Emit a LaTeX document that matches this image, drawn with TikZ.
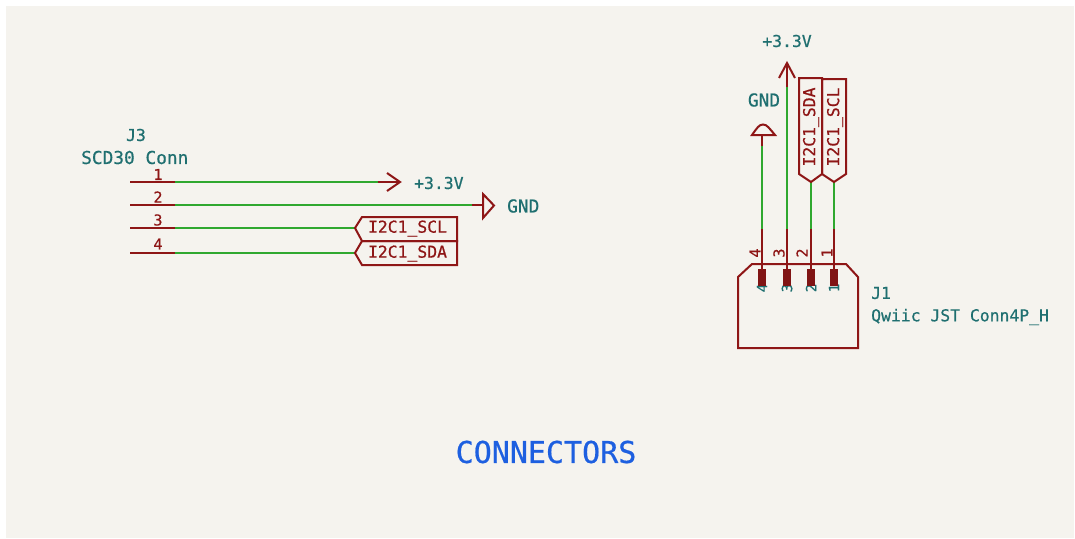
\documentclass[tikz,border=0pt]{standalone}
\usepackage{fontspec}
\setmainfont[FakeBold=0.6]{DejaVu Sans Mono}
\definecolor{panel}{HTML}{F5F3EE}
\definecolor{wirec}{HTML}{2FA82F}
\definecolor{symc}{HTML}{8E1616}
\definecolor{netc}{HTML}{1F6F70}
\definecolor{titlec}{HTML}{1D5FE0}
\tikzset{
  wire/.style={draw=wirec,line width=2.3pt},
  pinline/.style={draw=symc,line width=2.2pt},
  symline/.style={draw=symc,line width=2pt},
  pad/.style={draw=none,fill=symc!90!black},
  nettext/.style={text=netc,font=\fontsize{16.4}{16}\selectfont,inner sep=0pt},
  widetext/.style={text=netc,font=\fontsize{17.8}{16}\selectfont,inner sep=0pt},
  labeltext/.style={text=symc,font=\fontsize{16.4}{16}\selectfont,inner sep=0pt},
  pinnum/.style={text=symc,font=\fontsize{15}{16}\selectfont,inner sep=0pt},
  padnum/.style={text=netc,font=\fontsize{14}{14}\selectfont,inner sep=0pt,rotate=90},
}
\begin{document}
\begin{tikzpicture}[x=1pt,y=-1pt]
\useasboundingbox (0,0) rectangle (1075,538);
\fill[white] (0,0) rectangle (1075,538);
\fill[panel] (6,6) rectangle (1074,538);

% J3 pins and wires
\foreach \n/\y in {1/182,2/205,3/228,4/253}{
  \coordinate (p\n) at (130,\y);
  \coordinate (s\n) at (175,\y);
}
\coordinate (e1) at (378,182);
\coordinate (t1) at (400,182);
\coordinate (e2) at (472,205);
\coordinate (t2) at (483,205);
\coordinate (e3) at (355,228);
\coordinate (e4) at (355,253);
\foreach \n in {1,2,3,4}{\draw[pinline] (p\n) -- (s\n);}
\draw[symline] (e1) -- (t1);
\draw[symline] (e2) -- (t2);
\draw[symline] (387,173) -- (t1) -- (387,191);
\draw[symline] (483,194) -- (494,205.5) -- (483,218) -- cycle;
\draw[wire] (s1) -- (e1);
\draw[wire] (s2) -- (e2);
\draw[wire] (s3) -- (e3);
\draw[wire] (s4) -- (e4);
\draw[symline] (e3) -- (362,217) -- (457,217) -- (457,241) -- (362,241) -- cycle;
\draw[symline] (e4) -- (362,241) -- (457,241) -- (457,265) -- (362,265) -- cycle;
\node[labeltext] (lscl) at (407.5,228.5) {I2C1\_SCL};
\node[labeltext] (lsda) at (407.5,253.5) {I2C1\_SDA};
\node[nettext] (j3ref) at (136,135) {J3};
\node[widetext,anchor=west] (j3val) at (81,157.5) {SCD30 Conn};
\node[pinnum] (n1) at (158,174.5) {1};
\node[pinnum] (n2) at (158,197) {2};
\node[pinnum] (n3) at (158,220) {3};
\node[pinnum] (n4) at (158,244) {4};
\node[nettext,anchor=west] (v1) at (414,183) {+3.3V};
\node[widetext,anchor=west] (g1) at (507,206) {GND};

% J1
\node[padnum] (q4) at (762,288) {4};
\node[padnum] (q3) at (787,288) {3};
\node[padnum] (q2) at (811,288) {2};
\node[padnum] (q1) at (834,288) {1};
\draw[symline] (752,264) -- (846,264) -- (858,277) -- (858,348) -- (738,348) -- (738,277) -- cycle;
\foreach \n/\x in {4/762,3/787,2/811,1/834}{
  \coordinate (a\n) at (\x,229);
  \coordinate (b\n) at (\x,270);
  \fill[pad] (\x-4,269) rectangle (\x+4,286);
  \draw[pinline] (a\n) -- (b\n);
}
\coordinate (w4) at (762,146);
\coordinate (tg) at (762,135);
\coordinate (w3) at (787,87);
\coordinate (tv) at (787,63);
\coordinate (w2) at (811,182);
\coordinate (w1) at (834,182);
\draw[symline] (w4) -- (tg);
\draw[symline] (w3) -- (tv);
\draw[symline] (779,78) -- (tv) -- (795,78);
\draw[symline] (752,135) .. controls (757,128) and (759,124.5) .. (763,124.5) .. controls (767,124.5) and (769,128) .. (775,135) -- cycle;
\draw[wire] (w4) -- (a4);
\draw[wire] (w3) -- (a3);
\draw[wire] (w2) -- (a2);
\draw[wire] (w1) -- (a1);
\draw[symline] (w2) -- (822,174) -- (822,78) -- (799,78) -- (799,174) -- cycle;
\draw[symline] (w1) -- (846,174) -- (846,79) -- (822,79) -- (822,174) -- cycle;
\node[labeltext,rotate=90] (lsda2) at (811,127) {I2C1\_SDA};
\node[labeltext,rotate=90] (lscl2) at (835,127) {I2C1\_SCL};
\node[nettext] (v2) at (787,41) {+3.3V};
\node[widetext] (g2) at (764,100) {GND};
\node[pinnum,rotate=90] (m4) at (755,253) {4};
\node[pinnum,rotate=90] (m3) at (779,253) {3};
\node[pinnum,rotate=90] (m2) at (802,253) {2};
\node[pinnum,rotate=90] (m1) at (827,253) {1};
\node[nettext,anchor=west] (j1ref) at (871,293) {J1};
\node[nettext,anchor=west] (j1val) at (871,317) {Qwiic JST Conn4P\_H};

\node[text=titlec,font=\fontsize{30}{30}\selectfont,inner sep=0pt] (title) at (546,452) {CONNECTORS};
\end{tikzpicture}
\end{document}
